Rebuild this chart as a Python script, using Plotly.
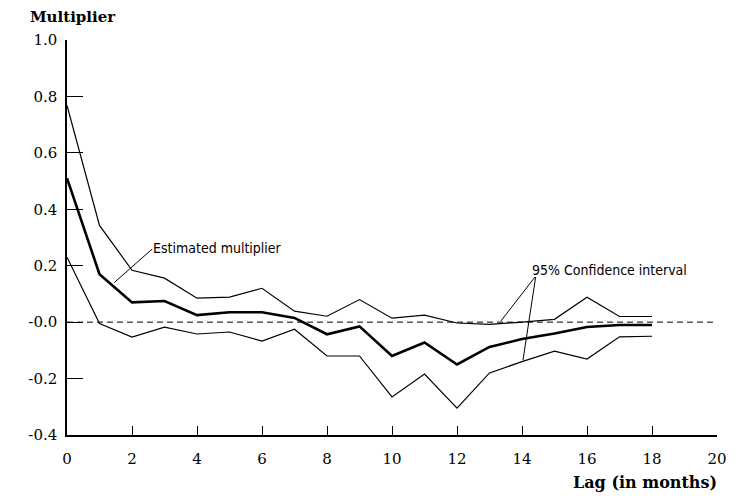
import plotly.graph_objects as go

lags = list(range(0, 19))
estimated = [0.51, 0.17, 0.07, 0.075, 0.025, 0.035, 0.035, 0.015, -0.043, -0.015,
             -0.12, -0.072, -0.15, -0.088, -0.06, -0.04, -0.017, -0.01, -0.01]
upper_ci = [0.768, 0.343, 0.184, 0.156, 0.085, 0.089, 0.12, 0.039, 0.021, 0.08,
            0.014, 0.025, -0.003, -0.008, 0.0, 0.01, 0.088, 0.02, 0.02]
lower_ci = [0.23, -0.005, -0.053, -0.018, -0.042, -0.035, -0.067, -0.025, -0.12, -0.12,
            -0.265, -0.184, -0.305, -0.18, -0.14, -0.103, -0.131, -0.052, -0.05]
zero_x = [0, 20]
zero_y = [0, 0]

x_ticks = list(range(0, 21, 2))
y_ticks = [1.0, 0.8, 0.6, 0.4, 0.2, 0.0, -0.2, -0.4]
y_tick_labels = ["1.0", "0.8", "0.6", "0.4", "0.2", "-0.0", "-0.2", "-0.4"]

serif = "DejaVu Serif, Liberation Serif, serif"
narrow = "DejaVu Sans Condensed, Liberation Sans Narrow, Liberation Sans, sans-serif"

fig = go.Figure()
fig.add_trace(go.Scatter(x=zero_x, y=zero_y, mode="lines",
                         line=dict(color="black", width=1, dash="6px,4px"),
                         showlegend=False, hoverinfo="skip"))
fig.add_trace(go.Scatter(x=lags, y=upper_ci, mode="lines",
                         line=dict(color="black", width=1.2), showlegend=False))
fig.add_trace(go.Scatter(x=lags, y=lower_ci, mode="lines",
                         line=dict(color="black", width=1.2), showlegend=False))
fig.add_trace(go.Scatter(x=lags, y=estimated, mode="lines",
                         line=dict(color="black", width=2.6), showlegend=False))

# leader lines
fig.add_shape(type="line", x0=2.62, y0=0.259, x1=1.45, y1=0.14,
              line=dict(color="black", width=1))
fig.add_shape(type="line", x0=14.4, y0=0.16, x1=13.35, y1=0.004,
              line=dict(color="black", width=1))
fig.add_shape(type="line", x0=14.42, y0=0.16, x1=14.03, y1=-0.135,
              line=dict(color="black", width=1))

fig.add_annotation(x=2.6, y=0.262, text="Estimated multiplier", showarrow=False,
                   xanchor="left", yanchor="middle", borderpad=0,
                   font=dict(family=narrow, size=14, color="black"))
fig.add_annotation(x=14.28, y=0.184, text="95% Confidence interval", showarrow=False,
                   xanchor="left", yanchor="middle", borderpad=0,
                   font=dict(family=narrow, size=14, color="black"))

# axis titles as annotations (paper coordinates)
fig.add_annotation(xref="paper", yref="paper", x=-0.0585, y=1.058,
                   text="<b>Multiplier</b>", showarrow=False, borderpad=0,
                   xanchor="left", yanchor="middle",
                   font=dict(family=serif, size=15, color="black"))
fig.add_annotation(xref="paper", yref="paper", x=1.0015, y=-0.1215,
                   text="<b>Lag (in months)</b>", showarrow=False, borderpad=0,
                   xanchor="right", yanchor="middle",
                   font=dict(family=serif, size=16, color="black"))

fig.update_layout(
    width=730, height=488,
    margin=dict(l=59, r=21, t=32, b=61),
    paper_bgcolor="white", plot_bgcolor="white",
    font=dict(family=serif, size=15, color="black"),
    xaxis=dict(range=[0, 20], tickvals=x_ticks, ticks="inside", ticklen=9,
               tickcolor="black", tickwidth=1.3, showline=True, linecolor="black",
               linewidth=1.5, showgrid=False, zeroline=False, ticklabelstandoff=9,
               tickfont=dict(family=serif, size=15)),
    yaxis=dict(range=[-0.4, 1.0], tickvals=y_ticks, ticktext=y_tick_labels,
               ticks="inside", ticklen=16, tickcolor="black", tickwidth=1.3,
               showline=True, linecolor="black", linewidth=1.5, showgrid=False,
               zeroline=False, ticklabelstandoff=5,
               tickfont=dict(family=serif, size=15)),
)

fig.write_html("out.html")
